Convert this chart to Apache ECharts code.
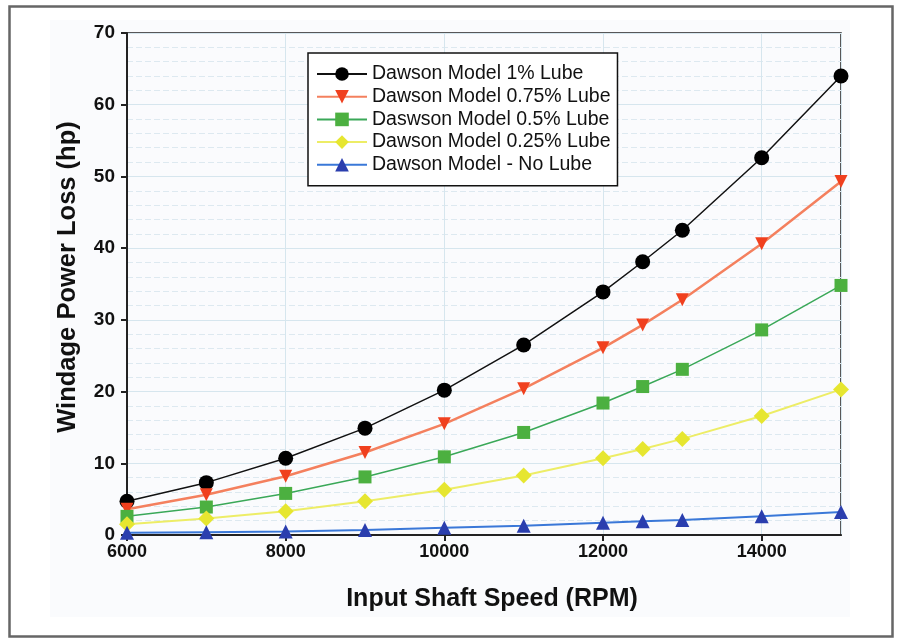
<!DOCTYPE html>
<html>
<head>
<meta charset="utf-8">
<script src="https://cdn.jsdelivr.net/npm/echarts@6/dist/echarts.min.js"></script>
<style>
  html, body { margin: 0; padding: 0; background: #fff; }
  #chart { width: 898px; height: 639px; }
</style>
</head>
<body>
<div id="chart"></div>
<script>
var rpm = [6000, 7000, 8000, 9000, 10000, 11000, 12000, 12500, 13000, 14000, 15000];
var lube100 = [4.7, 7.3, 10.7, 14.9, 20.2, 26.5, 33.9, 38.1, 42.5, 52.6, 64.0];
var lube075 = [3.6, 5.6, 8.2, 11.5, 15.5, 20.4, 26.1, 29.3, 32.8, 40.6, 49.3];
var lube050 = [2.6, 3.9, 5.8, 8.1, 10.9, 14.3, 18.4, 20.7, 23.1, 28.6, 34.8];
var lube025 = [1.5, 2.3, 3.3, 4.7, 6.3, 8.3, 10.7, 12.0, 13.4, 16.6, 20.3];
var noLube = [0.3, 0.4, 0.5, 0.7, 1.0, 1.3, 1.7, 1.9, 2.1, 2.6, 3.2];

var names = ['Dawson Model 1% Lube', 'Dawson Model 0.75% Lube', 'Daswson Model 0.5% Lube',
  'Dawson Model 0.25% Lube', 'Dawson Model - No Lube'];

var FONT = '"Liberation Sans", Arial, sans-serif';

function pairs(ys) {
  return rpm.map(function (x, i) { return [x, ys[i]]; });
}

function mkSeries(name, ys, lineColor, markColor, symbol, size, width, rotate) {
  return {
    name: name,
    type: 'line',
    data: pairs(ys),
    symbol: symbol,
    symbolSize: size,
    symbolRotate: rotate || 0,
    showAllSymbol: true,
    lineStyle: { color: lineColor, width: width },
    itemStyle: { color: markColor, borderWidth: 0 },
    z: 3
  };
}

var myChart = echarts.init(document.getElementById('chart'));

var option = {
  backgroundColor: '#fff',
  animation: false,
  graphic: [
    { type: 'rect', z: -10, silent: true,
      shape: { x: 50, y: 20, width: 800, height: 597 },
      style: { fill: '#fafbfd' } },
    { type: 'rect', z: -5, silent: true,
      shape: { x: 9.5, y: 6.5, width: 883, height: 630 },
      style: { fill: null, stroke: '#666', lineWidth: 2.5 } }
  ],
  grid: {
    left: 127, right: 57, top: 33, bottom: 104,
    show: true, borderColor: '#222', borderWidth: 1.5,
    backgroundColor: 'transparent'
  },
  legend: {
    orient: 'vertical',
    left: 308, top: 53,
    padding: [11, 7, 11, 8],
    itemWidth: 50, itemHeight: 17, itemGap: 2.7,
    backgroundColor: '#fff',
    borderColor: '#111', borderWidth: 1.5,
    textStyle: { fontFamily: FONT, fontSize: 19.5, color: '#111', lineHeight: 20 },
    data: names
  },
  xAxis: {
    type: 'value', min: 6000, max: 15000, interval: 2000,
    name: 'Input Shaft Speed (RPM)', nameLocation: 'middle', nameGap: 52,
    nameTextStyle: { fontFamily: FONT, fontSize: 25, fontWeight: 'bold', color: '#111',
      padding: [0, 0, 0, 16] },
    axisLine: { lineStyle: { color: '#222', width: 2 } },
    axisTick: { show: true, length: 6, lineStyle: { color: '#222', width: 2 } },
    axisLabel: { fontFamily: FONT, fontSize: 18, fontWeight: 'bold', color: '#111', margin: 8,
      showMaxLabel: false, formatter: function (v) { return String(v); } },
    splitLine: { show: true, lineStyle: { color: '#d6e6ee', width: 1 } }
  },
  yAxis: {
    type: 'value', min: 0, max: 70, interval: 10,
    name: 'Windage Power Loss (hp)', nameLocation: 'middle', nameGap: 46,
    nameTextStyle: { fontFamily: FONT, fontSize: 25.5, fontWeight: 'bold', color: '#111',
      padding: [0, 0, 0, 14] },
    axisLine: { show: true, lineStyle: { color: '#222', width: 2 } },
    axisTick: { show: true, length: 6, lineStyle: { color: '#222', width: 2 } },
    axisLabel: { fontFamily: FONT, fontSize: 19, fontWeight: 'bold', color: '#111', margin: 12 },
    splitLine: { show: true, lineStyle: { color: '#d6e6ee', width: 1 } },
    minorTick: { show: false, splitNumber: 5 },
    minorSplitLine: { show: true, lineStyle: { color: '#dde9f0', width: 1, type: [6, 3] } }
  },
  series: [
    mkSeries(names[0], lube100, '#111', '#000', 'circle', 15, 1.5),
    mkSeries(names[1], lube075, '#f4805e', '#f0401e', 'triangle', 13, 2.5, 180),
    mkSeries(names[2], lube050, '#3aa858', '#4cb040', 'rect', 13, 1.5),
    mkSeries(names[3], lube025, '#eded66', '#e6e630', 'diamond', 16, 2),
    mkSeries(names[4], noLube, '#3a78d8', '#2a3eae', 'triangle', 14, 2)
  ]
};

myChart.setOption(option);
</script>
</body>
</html>
